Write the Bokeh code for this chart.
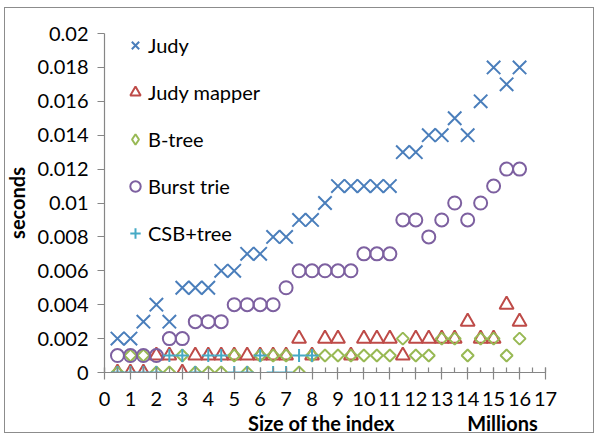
from bokeh.plotting import figure
from bokeh.models import FixedTicker, SingleIntervalTicker
from bokeh.embed import file_html
from bokeh.resources import INLINE

# ---- data (index size in millions, time in seconds) ----
sizes = [0.5, 1.0, 1.5, 2.0, 2.5, 3.0, 3.5, 4.0, 4.5, 5.0, 5.5, 6.0, 6.5, 7.0, 7.5, 8.0,
         8.5, 9.0, 9.5, 10.0, 10.5, 11.0, 11.5, 12.0, 12.5, 13.0, 13.5, 14.0, 14.5, 15.0, 15.5, 16.0]
judy = [0.002, 0.002, 0.003, 0.004, 0.003, 0.005, 0.005, 0.005, 0.006, 0.006, 0.007, 0.007,
        0.008, 0.008, 0.009, 0.009, 0.010, 0.011, 0.011, 0.011, 0.011, 0.011, 0.013, 0.013,
        0.014, 0.014, 0.015, 0.014, 0.016, 0.018, 0.017, 0.018]
judy_mapper = [0.0, 0.0, 0.0, 0.001, 0.001, 0.0, 0.001, 0.001, 0.001, 0.001, 0.001, 0.001,
               0.001, 0.001, 0.002, 0.001, 0.002, 0.002, 0.001, 0.002, 0.002, 0.002, 0.001, 0.002,
               0.002, 0.002, 0.002, 0.003, 0.002, 0.002, 0.004, 0.003]
btree = [0.0, 0.001, 0.001, 0.0, 0.0, 0.001, 0.0, 0.0, 0.0, 0.001, 0.0, 0.001,
         0.001, 0.001, 0.0, 0.001, 0.001, 0.001, 0.001, 0.001, 0.001, 0.001, 0.002, 0.001,
         0.001, 0.002, 0.002, 0.001, 0.002, 0.002, 0.001, 0.002]
burst_trie = [0.001, 0.001, 0.001, 0.001, 0.002, 0.002, 0.003, 0.003, 0.003, 0.004, 0.004, 0.004,
              0.004, 0.005, 0.006, 0.006, 0.006, 0.006, 0.006, 0.007, 0.007, 0.007, 0.009, 0.009,
              0.008, 0.009, 0.010, 0.009, 0.010, 0.011, 0.012, 0.012]
csb_sizes = [0.5, 1.0, 1.5, 2.0, 2.5, 3.0, 3.5, 4.0, 4.5, 5.0, 5.5, 6.0, 6.5, 7.0, 7.5, 8.0]
csb_tree = [0.0, 0.0, 0.0, 0.0, 0.001, 0.001, 0.0, 0.001, 0.001, 0.0, 0.0, 0.001,
            0.0, 0.0, 0.001, 0.001]

y_ticks = [0, 0.002, 0.004, 0.006, 0.008, 0.01, 0.012, 0.014, 0.016, 0.018, 0.02]
y_tick_labels = ["0", "0.002", "0.004", "0.006", "0.008", "0.01", "0.012", "0.014",
                 "0.016", "0.018", "0.02"]
x_title = "Size of the index"
x_unit = "Millions"

FONT = "Lato"
FS = "20px"
AXIS_GREY = "#868686"
NAN = float("nan")

p = figure(width=600, height=437, x_range=(0, 17), y_range=(0, 0.02),
           output_backend="svg", toolbar_location=None,
           min_border_left=104, min_border_right=55, min_border_top=33, min_border_bottom=65)
p.outline_line_color = None
p.xgrid.grid_line_color = None
p.ygrid.grid_line_color = None
p.background_fill_color = "white"
p.border_fill_color = "white"
p.stylesheets = [
    ":host { position: relative; }"
    ":host::after { content: ''; position: absolute; left: 4px; top: 7px; width: 590px;"
    " height: 426px; box-sizing: border-box; border: 1px solid #8c8c8c;"
    " pointer-events: none; z-index: 100; }"
]

p.scatter(sizes, judy, marker="x", size=19, line_color="#4A7EBB", line_width=2,
          legend_label="Judy")
p.scatter(sizes, judy_mapper, marker="triangle", size=14, line_color="#BE4B48",
          fill_color=None, line_width=2, legend_label="Judy mapper")
p.scatter(sizes, btree, marker="square", angle=0.785398, size=8.5, line_color="#98B954",
          fill_color=None, line_width=2)
# legend key only (no data drawn)
p.scatter([NAN], [NAN], marker="diamond", size=12, line_color="#98B954",
          fill_color=None, line_width=2, legend_label="B-tree")
p.scatter(sizes, burst_trie, marker="circle", size=13, line_color="#7D60A0",
          fill_color=None, line_width=2, legend_label="Burst trie")
p.scatter(csb_sizes, csb_tree, marker="cross", size=13, line_color="#46AAC5",
          line_width=2, legend_label="CSB+tree")

# axes
NB = "\u00a0"
xa = p.xaxis[0]
xa.ticker = SingleIntervalTicker(interval=1, num_minor_ticks=2)
xa.axis_label = NB * 28 + x_title + NB * 15 + x_unit
ya = p.yaxis[0]
ya.ticker = FixedTicker(ticks=y_ticks, minor_ticks=[])
ya.major_label_overrides = {t: l for t, l in zip(y_ticks, y_tick_labels)}
ya.axis_label = "seconds"

for ax in (xa, ya):
    ax.axis_line_color = AXIS_GREY
    ax.axis_line_width = 1.2
    ax.major_tick_line_color = AXIS_GREY
    ax.minor_tick_line_color = AXIS_GREY
    ax.major_tick_line_width = 1.2
    ax.minor_tick_line_width = 1.2
    ax.major_label_text_font = FONT
    ax.major_label_text_font_size = FS
    ax.major_label_text_color = "black"
    ax.axis_label_text_font = FONT
    ax.axis_label_text_font_size = FS
    ax.axis_label_text_font_style = "bold"
    ax.axis_label_text_color = "black"

xa.major_tick_in = 5
xa.major_tick_out = 7
xa.minor_tick_in = 5
xa.minor_tick_out = 0
xa.major_label_standoff = 12
xa.axis_label_standoff = 2

ya.major_tick_in = 0
ya.major_tick_out = 7
ya.minor_tick_in = 0
ya.minor_tick_out = 0
ya.major_label_standoff = 9
ya.axis_label_standoff = 5

# legend
lg = p.legend[0]
lg.location = (18, 125)
lg.border_line_alpha = 0
lg.background_fill_alpha = 0
lg.label_text_font = FONT
lg.label_text_font_size = FS
lg.label_text_color = "black"
lg.glyph_width = 26
lg.glyph_height = 28
lg.label_height = 28
lg.label_standoff = 0
lg.spacing = 19
lg.padding = 0
lg.margin = 0

open("out.html", "w").write(file_html(p, INLINE))
